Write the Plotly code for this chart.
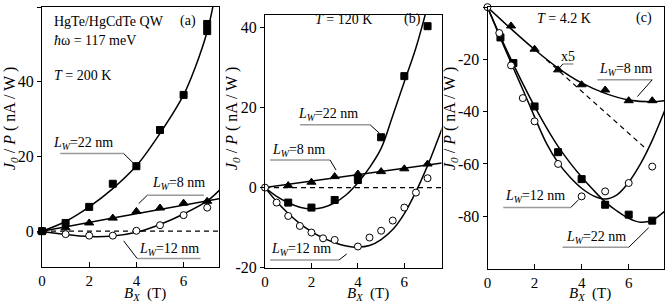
import plotly.graph_objects as go

# ---------------- data ----------------
# panel (a)  T = 200 K
a22_x = [0, 1, 2, 3, 4, 5, 6, 7, 7]
a22_y = [0, 2.2, 6.5, 12.7, 17.4, 27.1, 36.5, 53.6, 55.5]
a8_x = [0, 1, 2, 3, 4, 5, 6, 7]
a8_y = [0, 0.9, 2.2, 3.5, 5.3, 6.2, 7.5, 8.0]
a12_x = [0, 1, 2, 3, 4, 5, 6, 7]
a12_y = [0, -0.8, -1.2, -1.2, 0.1, 1.6, 4.3, 6.3]
a22_fit_x = [0, 1, 2, 3, 4, 5, 6, 6.5, 7, 7.3]
a22_fit_y = [0, 2.6, 6.5, 11.4, 17.5, 26.2, 36.5, 44.0, 53.5, 62.0]
a8_fit_x = [0, 3, 7.6]
a8_fit_y = [0, 3.55, 8.8]
a12_fit_x = [0, 1, 2, 3, 4, 5, 6, 7, 7.6]
a12_fit_y = [0, -0.9, -1.45, -1.3, -0.3, 1.8, 4.6, 8.1, 11.5]

# panel (b)  T = 120 K
b22_x = [1, 2, 3, 4, 5, 6, 7]
b22_y = [-3.75, -5.0, -3.1, 1.9, 12.6, 27.9, 40.4]
b8_x = [1, 2, 3, 4, 5, 6, 7]
b8_y = [0.5, 1.35, 2.75, 3.4, 4.0, 4.7, 5.9]
b12_x = [0, 0.5, 1, 1.5, 2, 2.5, 3, 4, 4.5, 5, 5.5, 6, 6.5, 7]
b12_y = [0, -3.75, -7.1, -9.6, -11.25, -12.7, -13.1, -14.75, -12.5, -10.8, -8.25, -5.0, -1.25, 2.35]
b22_fit_x = [0, 0.5, 1, 1.5, 2, 2.5, 3, 3.5, 4, 4.5, 5, 5.5, 6, 6.5, 7.0]
b22_fit_y = [0, -2.2, -3.8, -4.9, -5.3, -5.0, -3.8, -1.8, 1.2, 5.0, 9.8, 18.0, 26.5, 35.0, 45.5]
b8_fit_x = [0, 7.7]
b8_fit_y = [0, 6.2]
b12_fit_x = [0, 0.5, 1, 1.5, 2, 2.5, 3, 3.5, 4, 4.5, 5, 5.5, 6, 6.5, 7, 7.7]
b12_fit_y = [0, -3.5, -6.5, -9.0, -11.0, -12.6, -13.8, -14.6, -14.9, -14.5, -13.0, -10.5, -6.5, -1.0, 5.5, 16.0]

# panel (c)  T = 4.2 K
c8_x = [1, 2, 3, 4, 5, 6, 7]
c8_y = [-7.2, -16.1, -24.0, -29.7, -31.7, -35.8, -35.8]
c12_x = [0, 0.5, 1, 1.5, 2, 3, 4, 5, 6, 7]
c12_y = [0, -9.9, -22.3, -34.8, -43.7, -60.0, -72.4, -70.5, -67.3, -61.0]
c22_x = [0.55, 1.1, 2, 3, 4, 5, 6, 7]
c22_y = [-11.6, -21.4, -38.0, -55.5, -65.8, -75.6, -79.4, -81.7]
c8_fit_x = [0, 1, 2, 3, 4, 5, 6, 7, 7.6]
c8_fit_y = [0, -8.3, -16.2, -23.3, -29.0, -33.0, -35.5, -36.2, -35.7]
c8_lin_x = [2.5, 6.65]
c8_lin_y = [-20.1, -53.5]
c12_fit_x = [0, 0.5, 1, 1.5, 2, 2.5, 3, 3.5, 4, 4.5, 5, 5.5, 6, 6.5, 7, 7.6]
c12_fit_y = [0, -10.8, -21.3, -31.5, -42.0, -52.0, -59.5, -65.0, -69.3, -72.2, -73.4, -71.8, -67.0, -60.0, -51.0, -38.0]
c22_fit_x = [0, 0.5, 1, 1.5, 2, 2.5, 3, 3.5, 4, 4.5, 5, 5.5, 6, 6.5, 7, 7.6]
c22_fit_y = [0, -10.3, -20.0, -29.3, -38.0, -46.0, -53.3, -59.5, -65.0, -70.0, -74.5, -78.0, -80.8, -82.3, -81.5, -77.5]

zero_x = [0, 7.7]
zero_y = [0, 0]

x_ticks = [0, 2, 4, 6]
a_yticks = [0, 20, 40, 60]
b_yticks = [-20, 0, 20, 40]
c_yticks = [0, -20, -40, -60, -80]

FONT = "Liberation Serif"
W, H = 665, 302

fig = go.Figure()

def fitline(x, y, xa, ya, dash="solid"):
    fig.add_trace(go.Scatter(x=x, y=y, mode="lines", xaxis=xa, yaxis=ya,
                             line=dict(color="black", width=1.5, shape="spline", dash=dash),
                             showlegend=False, hoverinfo="skip"))

def pts(x, y, xa, ya, sym, fill="black", size=7):
    fig.add_trace(go.Scatter(x=x, y=y, mode="markers", xaxis=xa, yaxis=ya, cliponaxis=False,
                             marker=dict(symbol=sym, size=size, color=fill,
                                         line=dict(color="black", width=1)),
                             showlegend=False, hoverinfo="skip"))

# panel a
fig.add_trace(go.Scatter(x=zero_x, y=zero_y, mode="lines", xaxis="x", yaxis="y",
                         line=dict(color="black", width=1.2, dash="5px,4px"), showlegend=False))
fitline(a22_fit_x, a22_fit_y, "x", "y")
fitline(a8_fit_x, a8_fit_y, "x", "y")
fitline(a12_fit_x, a12_fit_y, "x", "y")
pts(a12_x, a12_y, "x", "y", "circle", "white", 7)
pts(a8_x, a8_y, "x", "y", "triangle-up", "black", 8)
pts(a22_x, a22_y, "x", "y", "square", "black", 7)

# panel b
fig.add_trace(go.Scatter(x=zero_x, y=zero_y, mode="lines", xaxis="x2", yaxis="y2",
                         line=dict(color="black", width=1.2, dash="5px,4px"), showlegend=False))
fitline(b22_fit_x, b22_fit_y, "x2", "y2")
fitline(b8_fit_x, b8_fit_y, "x2", "y2")
fitline(b12_fit_x, b12_fit_y, "x2", "y2")
pts(b22_x, b22_y, "x2", "y2", "square", "black", 7)
pts(b8_x, b8_y, "x2", "y2", "triangle-up", "black", 8)
pts(b12_x, b12_y, "x2", "y2", "circle", "white", 7)

# panel c
fitline(c8_fit_x, c8_fit_y, "x3", "y3")
fig.add_trace(go.Scatter(x=c8_lin_x, y=c8_lin_y, mode="lines", xaxis="x3", yaxis="y3",
                         line=dict(color="black", width=1.2, dash="5px,4px"), showlegend=False))
fitline(c12_fit_x, c12_fit_y, "x3", "y3")
fitline(c22_fit_x, c22_fit_y, "x3", "y3")
pts(c8_x, c8_y, "x3", "y3", "triangle-up", "black", 8)
pts(c22_x, c22_y, "x3", "y3", "square", "black", 7)
pts(c12_x, c12_y, "x3", "y3", "circle", "white", 7)

# ---------------- axes ----------------
def px_dom_x(l, r):
    return [l / W, r / W]

def px_dom_y(top, bot):
    return [1 - bot / H, 1 - top / H]

xcommon = dict(showline=True, linecolor="black", linewidth=1, mirror=True,
               ticks="inside", ticklen=5, tickcolor="black", tickmode="array",
               tickvals=x_ticks, ticktext=[str(v) for v in x_ticks],
               showgrid=False, zeroline=False, automargin=False,
               tickfont=dict(family=FONT, size=15, color="black"))
ycommon = dict(showline=True, linecolor="black", linewidth=1, mirror=True,
               ticks="outside", ticklen=4, tickcolor="black", tickmode="array",
               showgrid=False, zeroline=False, automargin=False,
               tickfont=dict(family=FONT, size=16, color="black"))

fig.update_layout(
    xaxis=dict(domain=px_dom_x(42, 219), range=[0, 7.5], anchor="y", **xcommon),
    yaxis=dict(domain=px_dom_y(7, 267), range=[-9.6, 60.05], anchor="x",
               tickvals=a_yticks, ticktext=[str(v) for v in a_yticks], **ycommon),
    xaxis2=dict(domain=px_dom_x(265, 441.5), range=[0, 7.6], anchor="y2", **xcommon),
    yaxis2=dict(domain=px_dom_y(15, 267.7), range=[-20.05, 43.2], anchor="x2",
                tickvals=b_yticks, ticktext=[str(v) for v in b_yticks], **ycommon),
    xaxis3=dict(domain=px_dom_x(487.5, 664), range=[0, 7.5], anchor="y3", **xcommon),
    yaxis3=dict(domain=px_dom_y(7, 268.5), range=[-100, 0.05], anchor="x3",
                tickvals=c_yticks, ticktext=[str(v) for v in c_yticks], **ycommon),
)

# ---------------- text ----------------
ann = []
def txt(s, x, y, xref, yref, size=14, xanchor="center", yanchor="middle", angle=0):
    ann.append(dict(text=s, x=x, y=y, xref=xref, yref=yref, showarrow=False,
                    xanchor=xanchor, yanchor=yanchor, textangle=angle,
                    font=dict(family=FONT, size=size, color="black")))

ytitle = "<i>J<sub>0</sub></i> / <i>P</i> ( nA / W )"
xtitle = "<i>B<sub>X</sub></i>  (T)"
for xp in (10, 232, 450):
    txt(ytitle, xp / W, 1 - 119 / H, "paper", "paper", size=16, angle=-90)
for xp in (145, 368, 590):
    txt(xtitle, xp / W, 1 - 294 / H, "paper", "paper", size=15)

# panel a text
txt("HgTe/HgCdTe QW", 0.43, 56.3, "x", "y", xanchor="left")
txt("(a)", 6.2, 56.3, "x", "y")
txt("<i>ħ</i>ω = 117 meV", 0.43, 51.0, "x", "y", xanchor="left")
txt("<i>T</i> = 200 K", 0.43, 41.8, "x", "y", xanchor="left")
txt("<i>L<sub>W</sub></i>=22 nm", 1.75, 23.6, "x", "y")
txt("<i>L<sub>W</sub></i>=8 nm", 5.8, 12.8, "x", "y")
txt("<i>L<sub>W</sub></i>=12 nm", 5.37, -4.8, "x", "y")
# panel b text
txt("<i>T</i> = 120 K", 3.36, 42.2, "x2", "y2")
txt("(b)", 6.36, 42.2, "x2", "y2")
txt("<i>L<sub>W</sub></i>=22 nm", 2.72, 18.2, "x2", "y2")
txt("<i>L<sub>W</sub></i>=8 nm", 1.45, 9.3, "x2", "y2")
txt("<i>L<sub>W</sub></i>=12 nm", 1.55, -15.4, "x2", "y2")
# panel c text
txt("<i>T</i> = 4.2 K", 3.25, -4.2, "x3", "y3")
txt("(c)", 6.66, -4.2, "x3", "y3")
txt("x5", 3.42, -19.0, "x3", "y3")
txt("<i>L<sub>W</sub></i>=8 nm", 5.85, -24.0, "x3", "y3")
txt("<i>L<sub>W</sub></i>=12 nm", 2.03, -72.4, "x3", "y3")
txt("<i>L<sub>W</sub></i>=22 nm", 4.6, -88.2, "x3", "y3")
fig.update_layout(annotations=ann)

# leader lines: gray underline + black pointer
shapes = []
def leader(xr, yr, u0, u1, uy, p0, p1):
    shapes.append(dict(type="line", xref=xr, yref=yr, x0=u0, x1=u1, y0=uy, y1=uy,
                       line=dict(color="#9a9a9a", width=1.5)))
    shapes.append(dict(type="line", xref=xr, yref=yr, x0=p0[0], y0=p0[1], x1=p1[0], y1=p1[1],
                       line=dict(color="black", width=1)))

leader("x", "y", 0.77, 3.46, 20.8, (3.46, 20.8), (3.86, 18.3))
leader("x", "y", 4.46, 6.86, 9.6, (4.46, 9.6), (4.1, 7.4))
leader("x", "y", 4.03, 6.72, -7.3, (4.03, -7.3), (3.46, -2.6))
leader("x2", "y2", 1.51, 4.53, 15.7, (4.53, 15.7), (4.93, 13.6))
leader("x2", "y2", 0.22, 2.8, 6.9, (2.8, 6.9), (3.06, 4.4))
leader("x2", "y2", 0.22, 3.19, -18.1, (3.19, -18.1), (3.52, -16.6))
leader("x3", "y3", 3.2, 3.65, -21.8, (3.2, -21.8), (3.02, -23.6))
leader("x3", "y3", 4.67, 7.0, -27.8, (7.0, -27.8), (6.37, -34.2))
leader("x3", "y3", 0.67, 3.53, -76.7, (3.53, -76.7), (3.87, -73.7))
leader("x3", "y3", 3.19, 6.0, -91.9, (6.0, -91.9), (6.85, -84.4))
fig.update_layout(shapes=shapes)

fig.update_layout(width=W, height=H, margin=dict(l=0, r=0, t=0, b=0, autoexpand=False),
                  paper_bgcolor="white", plot_bgcolor="white",
                  font=dict(family=FONT, color="black"), showlegend=False)

fig.write_html("out.html", config={"displayModeBar": False},
               post_script="document.body.style.margin='0';document.body.style.overflow='hidden';")
